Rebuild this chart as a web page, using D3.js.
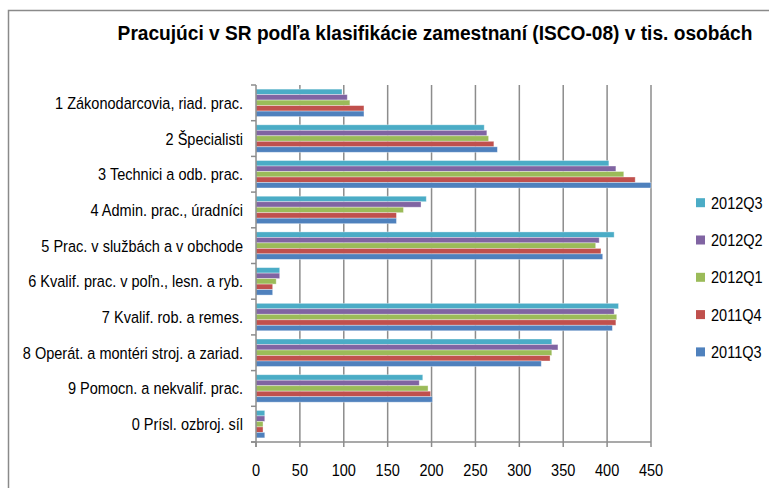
<!DOCTYPE html>
<html>
<head>
<meta charset="utf-8">
<script src="https://cdn.jsdelivr.net/npm/d3@7"></script>
<style>
  body { margin: 0; background: #fff; }
  svg { display: block; }
  text { font-family: "Liberation Sans", Arial, sans-serif; fill: #000; }
</style>
</head>
<body>
<svg id="mainSvg" width="769" height="488"></svg>
<script>
// categories, top to bottom
let categories = [
    '1 Zákonodarcovia, riad. prac.',
    '2 Špecialisti',
    '3 Technici a odb. prac.',
    '4 Admin. prac., úradníci',
    '5 Prac. v službách a v obchode',
    '6 Kvalif. prac. v poľn., lesn. a ryb.',
    '7 Kvalif. rob. a remes.',
    '8 Operát. a montéri stroj. a zariad.',
    '9 Pomocn. a nekvalif. prac.',
    '0 Prísl. ozbroj. síl'
]

// series values, thousands of persons
let v2011Q3 = [123, 275, 450, 160, 395, 19, 406, 325, 201, 10]
let v2011Q4 = [123, 271, 432, 160, 393, 19, 410, 335, 199, 8]
let v2012Q1 = [107, 265, 419, 168, 387, 23, 411, 337, 196, 8]
let v2012Q2 = [104, 263, 410, 188, 391, 27, 408, 344, 186, 10]
let v2012Q3 = [98, 260, 402, 194, 408, 27, 413, 337, 190, 10]

// order inside each band, top to bottom (= legend order)
let seriesNames = ['2012Q3', '2012Q2', '2012Q1', '2011Q4', '2011Q3']
let seriesValues = [v2012Q3, v2012Q2, v2012Q1, v2011Q4, v2011Q3]
let colors = ['#4BACC6', '#8064A2', '#9BBB59', '#C0504D', '#4F81BD']

let xTicks = [0, 50, 100, 150, 200, 250, 300, 350, 400, 450]

let svg = d3.select('#mainSvg')

// narrow look of the original font: horizontal squeeze
let squeeze = 0.88
let place = (px, py, s) => 'translate(' + px + ',' + py + ') scale(' + s + ',1)'

// chart frame
svg.append('rect')
    .attr('x', 8.5).attr('y', 10.5)
    .attr('width', 800).attr('height', 500)
    .attr('fill', 'none')
    .attr('stroke', '#8a8a8a')
    .attr('stroke-width', 1.5)

svg.append('text')
    .attr('transform', place(435, 40, 0.912))
    .attr('text-anchor', 'middle')
    .style('font-size', '21px')
    .style('font-weight', 'bold')
    .text('Pracujúci v SR podľa klasifikácie zamestnaní (ISCO-08) v tis. osobách')

let pLeft = 256, pRight = 651, pTop = 85, pBottom = 442

let x = d3.scaleLinear().domain([0, 450]).range([pLeft, pRight])
let y = d3.scaleBand().domain(categories).range([pTop, pBottom])
    .paddingInner(1.5 / 6.5).paddingOuter(0.75 / 6.5)
let ys = d3.scaleBand().domain(seriesNames).range([0, y.bandwidth()])

// gridlines
svg.append('g')
    .selectAll('line')
    .data(xTicks.slice(1))
    .enter()
    .append('line')
    .attr('x1', d => x(d)).attr('x2', d => x(d))
    .attr('y1', pTop).attr('y2', pBottom)
    .attr('stroke', '#8c8c8c')
    .attr('stroke-width', 1.5)

// bars
seriesNames.forEach(function (name, si) {
    svg.append('g')
        .selectAll('rect')
        .data(seriesValues[si])
        .enter()
        .append('rect')
        .attr('x', x(0))
        .attr('y', (d, i) => y(categories[i]) + ys(name))
        .attr('width', d => x(d) - x(0))
        .attr('height', ys.bandwidth())
        .attr('fill', colors[si])
        .attr('stroke', '#ffffff')
        .attr('stroke-opacity', 0.45)
        .attr('stroke-width', 0.8)
})

// y axis
let yAxis = svg.append('g')
yAxis.append('line')
    .attr('x1', pLeft).attr('x2', pLeft)
    .attr('y1', pTop).attr('y2', pBottom + 5)
    .attr('stroke', '#8c8c8c').attr('stroke-width', 1.5)
let bounds = d3.range(categories.length + 1).map(i => pTop + i * y.step())
yAxis.selectAll('line.tick')
    .data(bounds)
    .enter()
    .append('line')
    .attr('class', 'tick')
    .attr('x1', pLeft - 5).attr('x2', pLeft)
    .attr('y1', d => d).attr('y2', d => d)
    .attr('stroke', '#8c8c8c').attr('stroke-width', 1.5)
yAxis.selectAll('text')
    .data(categories)
    .enter()
    .append('text')
    .attr('transform', d => place(243, y(d) + y.bandwidth() / 2, squeeze))
    .attr('dy', '0.36em')
    .attr('text-anchor', 'end')
    .style('font-size', '16.5px')
    .text(d => d)

// x axis
let xAxis = svg.append('g')
xAxis.append('line')
    .attr('x1', pLeft - 5).attr('x2', pRight)
    .attr('y1', pBottom).attr('y2', pBottom)
    .attr('stroke', '#8c8c8c').attr('stroke-width', 1.5)
xAxis.selectAll('line.tick')
    .data(xTicks)
    .enter()
    .append('line')
    .attr('class', 'tick')
    .attr('x1', d => x(d)).attr('x2', d => x(d))
    .attr('y1', pBottom).attr('y2', pBottom + 5)
    .attr('stroke', '#8c8c8c').attr('stroke-width', 1.5)
xAxis.selectAll('text')
    .data(xTicks)
    .enter()
    .append('text')
    .attr('transform', d => place(x(d), 476, squeeze))
    .attr('text-anchor', 'middle')
    .style('font-size', '16.5px')
    .text(d => d)

// legend
let legend = svg.append('g')
    .selectAll('g')
    .data(seriesNames)
    .enter()
    .append('g')
    .attr('transform', (d, i) => 'translate(696,' + (202.7 + i * 37.3) + ')')
legend.append('rect')
    .attr('x', 0).attr('y', -4.5)
    .attr('width', 9).attr('height', 9)
    .attr('fill', (d, i) => colors[i])
legend.append('text')
    .attr('transform', place(15, 0, squeeze))
    .attr('dy', '0.36em')
    .style('font-size', '16.5px')
    .text(d => d)
</script>
</body>
</html>
